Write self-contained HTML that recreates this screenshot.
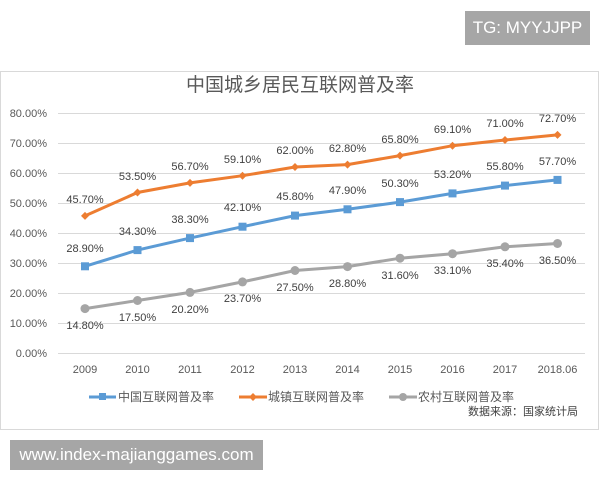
<!DOCTYPE html>
<html><head><meta charset="utf-8"><style>
body{margin:0;width:600px;height:480px;background:#fff;overflow:hidden;position:relative;font-family:"Liberation Sans","Noto Sans CJK SC",sans-serif}
.tg{position:absolute;left:465px;top:11px;width:125px;height:34px;background:#a6a6a6;color:#fff;font-size:17px;line-height:34px;text-align:center}
.www{position:absolute;left:10px;top:440px;width:253px;height:30px;background:#a6a6a6;color:#fff;font-size:17px;line-height:30px;text-align:center}
</style></head><body>
<div class="tg">TG: MYYJJPP</div>
<svg width="600" height="480" style="position:absolute;left:0;top:0">
<rect x="0.5" y="71.5" width="598" height="358" fill="#fff" stroke="#d9d9d9"/>
<text x="300" y="91" font-size="19" fill="#595959" text-anchor="middle" font-family="Noto Sans CJK SC,sans-serif">中国城乡居民互联网普及率</text>
<g stroke="#d9d9d9" stroke-width="1">
<line x1="58" x2="585" y1="113.5" y2="113.5"/><line x1="58" x2="585" y1="143.5" y2="143.5"/><line x1="58" x2="585" y1="173.5" y2="173.5"/><line x1="58" x2="585" y1="203.5" y2="203.5"/><line x1="58" x2="585" y1="233.5" y2="233.5"/><line x1="58" x2="585" y1="263.5" y2="263.5"/><line x1="58" x2="585" y1="293.5" y2="293.5"/><line x1="58" x2="585" y1="323.5" y2="323.5"/><line x1="58" x2="585" y1="353.5" y2="353.5"/>
</g>
<g font-size="11" fill="#595959" text-anchor="end">
<text x="47" y="117">80.00%</text><text x="47" y="147">70.00%</text><text x="47" y="177">60.00%</text><text x="47" y="207">50.00%</text><text x="47" y="237">40.00%</text><text x="47" y="267">30.00%</text><text x="47" y="297">20.00%</text><text x="47" y="327">10.00%</text><text x="47" y="357">0.00%</text>
</g>
<g font-size="11" fill="#595959" text-anchor="middle">
<text x="85" y="373">2009</text><text x="137.5" y="373">2010</text><text x="190" y="373">2011</text><text x="242.5" y="373">2012</text><text x="295" y="373">2013</text><text x="347.5" y="373">2014</text><text x="400" y="373">2015</text><text x="452.5" y="373">2016</text><text x="505" y="373">2017</text><text x="557.5" y="373">2018.06</text>
</g>
<polyline fill="none" stroke="#ed7d31" stroke-width="3" points="85,215.9 137.5,192.5 190,182.9 242.5,175.7 295,167 347.5,164.6 400,155.6 452.5,145.7 505,140 557.5,134.9"/>
<polyline fill="none" stroke="#5b9bd5" stroke-width="3" points="85,266.3 137.5,250.1 190,238.1 242.5,226.7 295,215.6 347.5,209.3 400,202.1 452.5,193.4 505,185.6 557.5,179.9"/>
<polyline fill="none" stroke="#a5a5a5" stroke-width="3" points="85,308.6 137.5,300.5 190,292.4 242.5,281.9 295,270.5 347.5,266.6 400,258.2 452.5,253.7 505,246.8 557.5,243.5"/>
<g fill="#ed7d31"><path d="M85,211.9l4,4-4,4-4-4z"/><path d="M137.5,188.5l4,4-4,4-4-4z"/><path d="M190,178.9l4,4-4,4-4-4z"/><path d="M242.5,171.7l4,4-4,4-4-4z"/><path d="M295,163l4,4-4,4-4-4z"/><path d="M347.5,160.6l4,4-4,4-4-4z"/><path d="M400,151.6l4,4-4,4-4-4z"/><path d="M452.5,141.7l4,4-4,4-4-4z"/><path d="M505,136l4,4-4,4-4-4z"/><path d="M557.5,130.9l4,4-4,4-4-4z"/></g>
<g fill="#5b9bd5"><rect x="81" y="262.3" width="8" height="8"/><rect x="133.5" y="246.1" width="8" height="8"/><rect x="186" y="234.1" width="8" height="8"/><rect x="238.5" y="222.7" width="8" height="8"/><rect x="291" y="211.6" width="8" height="8"/><rect x="343.5" y="205.3" width="8" height="8"/><rect x="396" y="198.1" width="8" height="8"/><rect x="448.5" y="189.4" width="8" height="8"/><rect x="501" y="181.6" width="8" height="8"/><rect x="553.5" y="175.9" width="8" height="8"/></g>
<g fill="#a5a5a5"><circle cx="85" cy="308.6" r="4.5"/><circle cx="137.5" cy="300.5" r="4.5"/><circle cx="190" cy="292.4" r="4.5"/><circle cx="242.5" cy="281.9" r="4.5"/><circle cx="295" cy="270.5" r="4.5"/><circle cx="347.5" cy="266.6" r="4.5"/><circle cx="400" cy="258.2" r="4.5"/><circle cx="452.5" cy="253.7" r="4.5"/><circle cx="505" cy="246.8" r="4.5"/><circle cx="557.5" cy="243.5" r="4.5"/></g>
<g font-size="11" fill="#404040" text-anchor="middle">
<text x="85" y="203">45.70%</text><text x="137.5" y="180">53.50%</text><text x="190" y="170">56.70%</text><text x="242.5" y="163">59.10%</text><text x="295" y="154">62.00%</text><text x="347.5" y="152">62.80%</text><text x="400" y="143">65.80%</text><text x="452.5" y="133">69.10%</text><text x="505" y="127">71.00%</text><text x="557.5" y="122">72.70%</text>
<text x="85" y="252">28.90%</text><text x="137.5" y="235">34.30%</text><text x="190" y="223">38.30%</text><text x="242.5" y="211">42.10%</text><text x="295" y="200">45.80%</text><text x="347.5" y="194">47.90%</text><text x="400" y="187">50.30%</text><text x="452.5" y="178">53.20%</text><text x="505" y="170">55.80%</text><text x="557.5" y="165">57.70%</text>
<text x="85" y="329">14.80%</text><text x="137.5" y="321">17.50%</text><text x="190" y="313">20.20%</text><text x="242.5" y="302">23.70%</text><text x="295" y="291">27.50%</text><text x="347.5" y="287">28.80%</text><text x="400" y="279">31.60%</text><text x="452.5" y="274">33.10%</text><text x="505" y="267">35.40%</text><text x="557.5" y="264">36.50%</text>
</g>
<g font-size="12" fill="#595959" font-family="Noto Sans CJK SC,sans-serif">
<line x1="89" x2="116" y1="397" y2="397" stroke="#5b9bd5" stroke-width="3"/><rect x="99" y="393" width="7" height="7" fill="#5b9bd5"/><text x="118" y="401">中国互联网普及率</text>
<line x1="239" x2="267" y1="397" y2="397" stroke="#ed7d31" stroke-width="3"/><path d="M253,393l4,4-4,4-4-4z" fill="#ed7d31"/><text x="268" y="401">城镇互联网普及率</text>
<line x1="389" x2="417" y1="397" y2="397" stroke="#a5a5a5" stroke-width="3"/><circle cx="403" cy="397" r="4" fill="#a5a5a5"/><text x="418" y="401">农村互联网普及率</text>
<text x="578" y="415" text-anchor="end" font-size="11" fill="#404040">数据来源：国家统计局</text>
</g>
</svg>
<div class="www">www.index-majianggames.com</div>
</body></html>
